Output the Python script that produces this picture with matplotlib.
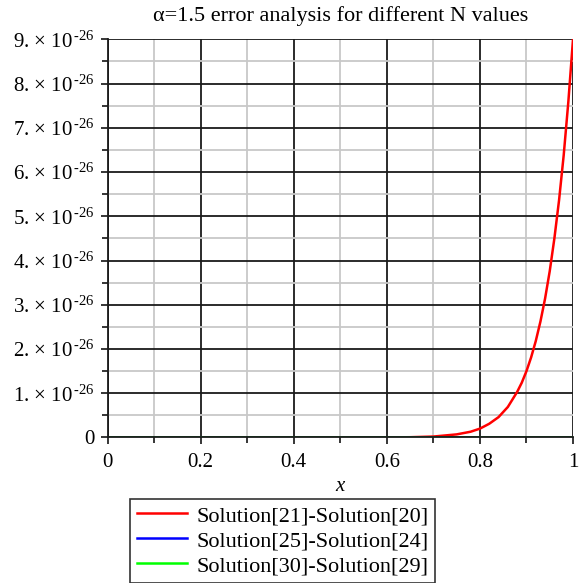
import matplotlib
matplotlib.use("Agg")
import matplotlib.pyplot as plt
from matplotlib.ticker import FuncFormatter, MultipleLocator

plt.rcParams['font.family'] = ['Liberation Serif', 'DejaVu Serif']
plt.rcParams['mathtext.fontset'] = 'custom'
plt.rcParams['mathtext.rm'] = 'Liberation Serif'
plt.rcParams['mathtext.it'] = 'Liberation Serif:italic'

# values (y in units of 1e-26)
x_21 = [0, 0.5, 0.6, 0.65, 0.7, 0.75, 0.78, 0.8, 0.82, 0.84, 0.86, 0.88, 0.89,
        0.9, 0.91, 0.92, 0.93, 0.94, 0.95, 0.96, 0.97, 0.98, 0.99, 1.0]
y_21 = [0, 0.0, 0.0015, 0.006, 0.021, 0.07, 0.13, 0.20, 0.31, 0.46, 0.69, 1.03, 1.24,
        1.5, 1.81, 2.18, 2.62, 3.14, 3.76, 4.5, 5.36, 6.38, 7.59, 9.0]
x_25 = [0, 1.0]
y_25 = [0, 0]
x_30 = [0, 1.0]
y_30 = [0, 0]
labels = ['Solution[21]-Solution[20]', 'Solution[25]-Solution[24]',
          'Solution[30]-Solution[29]']
scale = 1e-26

fig = plt.figure(figsize=(5.85, 5.83), dpi=100)
ax = fig.add_axes([0.1838, 0.2496, 0.7957, 0.683])

ax.plot(x_21, [v * scale for v in y_21], color='#ff0000', lw=1.8, label=labels[0], zorder=4)
ax.plot(x_25, y_25, color='#0000ff', lw=1.8, label=labels[1], zorder=4.1)
ax.plot(x_30, y_30, color='#00ff00', lw=1.8, label=labels[2], zorder=4.2)

ax.set_xlim(0, 1)
ax.set_ylim(0, 9 * scale)
ax.xaxis.set_major_locator(MultipleLocator(0.2))
ax.xaxis.set_minor_locator(MultipleLocator(0.1))
ax.yaxis.set_major_locator(MultipleLocator(1 * scale))
ax.yaxis.set_minor_locator(MultipleLocator(0.5 * scale))

def xfmt(v, pos):
    if abs(v) < 1e-9:
        return '0'
    if abs(v - 1) < 1e-9:
        return '1'
    return '%.1f' % v

def yfmt(v, pos):
    n = int(round(v / scale))
    if n == 0:
        return '0'
    return '%d. $\\times$ 10$^{\\,\\mathrm{\u2010}26}$' % n

ax.xaxis.set_major_formatter(FuncFormatter(xfmt))
ax.yaxis.set_major_formatter(FuncFormatter(yfmt))

ax.grid(which='major', color='#1a1a1a', lw=1.3)
ax.grid(which='minor', color='#c8c8c8', lw=1.3)
ax.set_axisbelow(True)
for s in ['top', 'right']:
    ax.spines[s].set_visible(False)
for s in ['left', 'bottom']:
    ax.spines[s].set_linewidth(1.3)
    ax.spines[s].set_color('#1a1a1a')
    ax.spines[s].set_zorder(5)

ax.tick_params(which='both', direction='out', labelsize=15, width=1.1)
ax.tick_params(which='major', length=5)
ax.tick_params(which='minor', length=4)
ax.tick_params(axis='x', pad=6)
ax.tick_params(axis='y', pad=4)

ax.set_xlabel('x', fontsize=15, style='italic', labelpad=4)
ax.set_title('α=1.5 error analysis for different N values', fontsize=16, pad=13)

leg = ax.legend(loc='upper left', bbox_to_anchor=(130 / 585, 1 - 499 / 583),
                bbox_transform=fig.transFigure, fontsize=16,
                frameon=True, fancybox=False, edgecolor='black', handlelength=2.25,
                borderpad=0.3, labelspacing=0.2, handletextpad=0.45, borderaxespad=0)
leg.get_frame().set_linewidth(1.2)

fig.savefig('out.png', dpi=100)
